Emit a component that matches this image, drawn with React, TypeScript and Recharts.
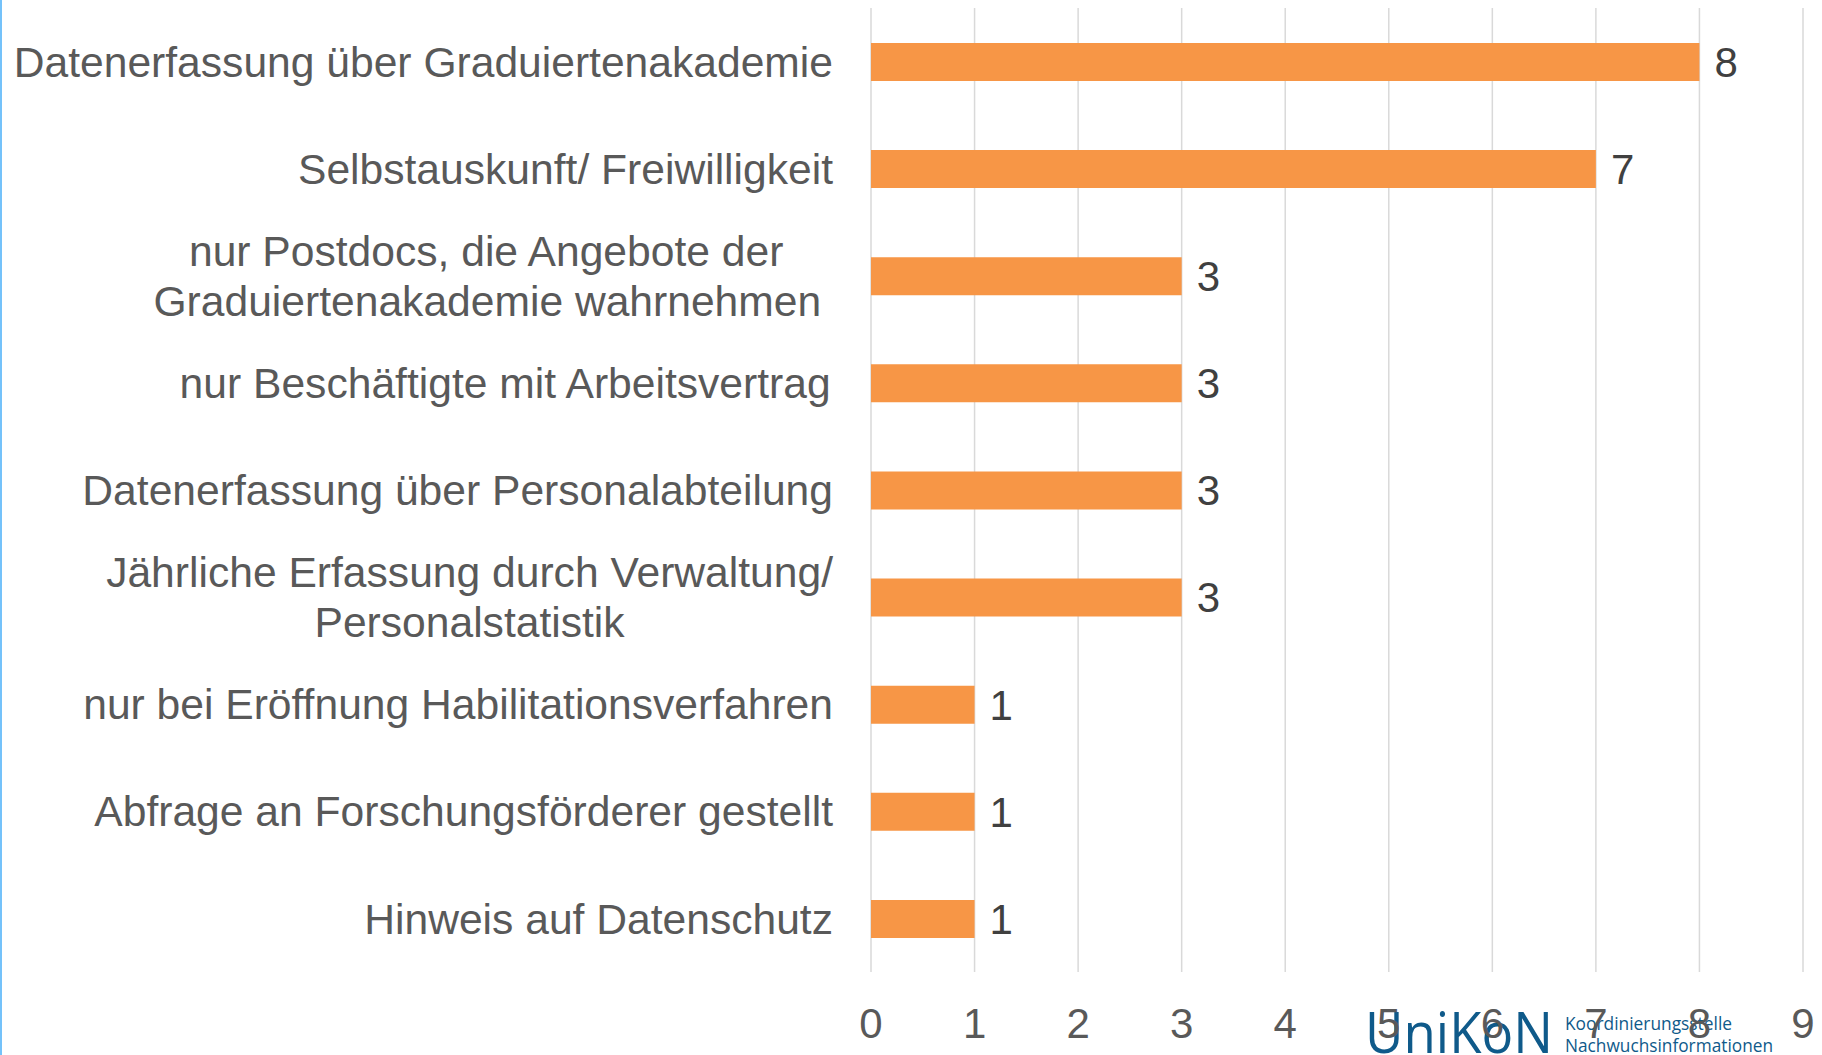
import React from 'react';
import { BarChart, Bar, XAxis, YAxis, CartesianGrid, LabelList } from 'recharts';

const categories: string[] = [
  'Datenerfassung über Graduiertenakademie',
  'Selbstauskunft/ Freiwilligkeit',
  'nur Postdocs, die Angebote der\nGraduiertenakademie wahrnehmen ',
  'nur Beschäftigte mit Arbeitsvertrag',
  'Datenerfassung über Personalabteilung',
  'Jährliche Erfassung durch Verwaltung/\nPersonalstatistik',
  'nur bei Eröffnung Habilitationsverfahren',
  'Abfrage an Forschungsförderer gestellt',
  'Hinweis auf Datenschutz',
];
const values: number[] = [8, 7, 3, 3, 3, 3, 1, 1, 1];
const xTicks: number[] = [0, 1, 2, 3, 4, 5, 6, 7, 8, 9];

const data = categories.map((name, i) => ({ name, value: values[i] }));

const FONT = '"Liberation Sans", Arial, sans-serif';
const FS = 42;
const CFS = 42.6;

let ctx: CanvasRenderingContext2D | null = null;
function measure(t: string): number {
  if (!ctx) ctx = document.createElement('canvas').getContext('2d');
  if (!ctx) return t.length * CFS * 0.5;
  ctx.font = `${CFS}px "Liberation Sans"`;
  return ctx.measureText(t).width;
}

const CategoryTick = (props: any) => {
  const { x, y, payload } = props;
  const lines: string[] = String(payload.value).split('\n');
  const full = lines.map((l) => measure(l));
  const trimmed = lines.map((l) => measure(l.trimEnd()));
  let wi = 0;
  full.forEach((w, i) => { if (w > full[wi]) wi = i; });
  const start = x - full[wi];
  const center = start + trimmed[wi] / 2;
  const lh = 50;
  const y0 = y - ((lines.length - 1) * lh) / 2;
  return (
    <g>
      {lines.map((l, i) => (
        <text
          key={i}
          x={center - trimmed[i] / 2}
          y={y0 + i * lh}
          dy="0.355em"
          textAnchor="start"
          fill="#595959"
          fontSize={CFS}
          fontFamily={FONT}
        >
          {l.trimEnd()}
        </text>
      ))}
    </g>
  );
};

export default function App() {
  return (
    <div style={{ position: 'absolute', left: 0, top: 0, width: 1822, height: 1055, background: '#fff', overflow: 'hidden' }}>
      <div style={{ position: 'absolute', left: 0, top: 0, width: 2, height: 1055, background: '#74C2FA' }} />
      <svg style={{ position: 'absolute', left: 0, top: 0 }} width={1822} height={1055}>
        <text x={1365} y={1053} fontSize={57} fill="#0F5A8A" fontFamily='"Open Sans", sans-serif' textLength={188} lengthAdjust="spacingAndGlyphs">UniKoN</text>
        <text x={1565} y={1030} fontSize={19} fill="#0F5A8A" fontFamily='"Open Sans", sans-serif' textLength={167} lengthAdjust="spacingAndGlyphs">Koordinierungsstelle</text>
        <text x={1565} y={1052} fontSize={19} fill="#0F5A8A" fontFamily='"Open Sans", sans-serif' textLength={208} lengthAdjust="spacingAndGlyphs">Nachwuchsinformationen</text>
      </svg>
      <div style={{ position: 'absolute', left: 0, top: 0 }}>
        <BarChart
          width={1822}
          height={1055}
          layout="vertical"
          data={data}
          margin={{ top: 8, right: 19, bottom: 0, left: 0 }}
        >
          <CartesianGrid horizontal={false} stroke="#D9D9D9" strokeWidth={1.5} />
          <XAxis
            type="number"
            domain={[0, 9]}
            ticks={xTicks}
            interval={0}
            axisLine={false}
            tickLine={false}
            tickSize={0}
            tickMargin={36}
            height={83}
            tick={{ fill: '#595959', fontSize: FS, fontFamily: FONT }}
          />
          <YAxis
            type="category"
            dataKey="name"
            width={871}
            interval={0}
            axisLine={false}
            tickLine={false}
            tickSize={0}
            tickMargin={38}
            tick={<CategoryTick />}
          />
          <Bar dataKey="value" fill="#F79646" barSize={38} isAnimationActive={false}>
            <LabelList dataKey="value" position="right" offset={15} fill="#404040" fontSize={FS} fontFamily={FONT} />
          </Bar>
        </BarChart>
      </div>
    </div>
  );
}
